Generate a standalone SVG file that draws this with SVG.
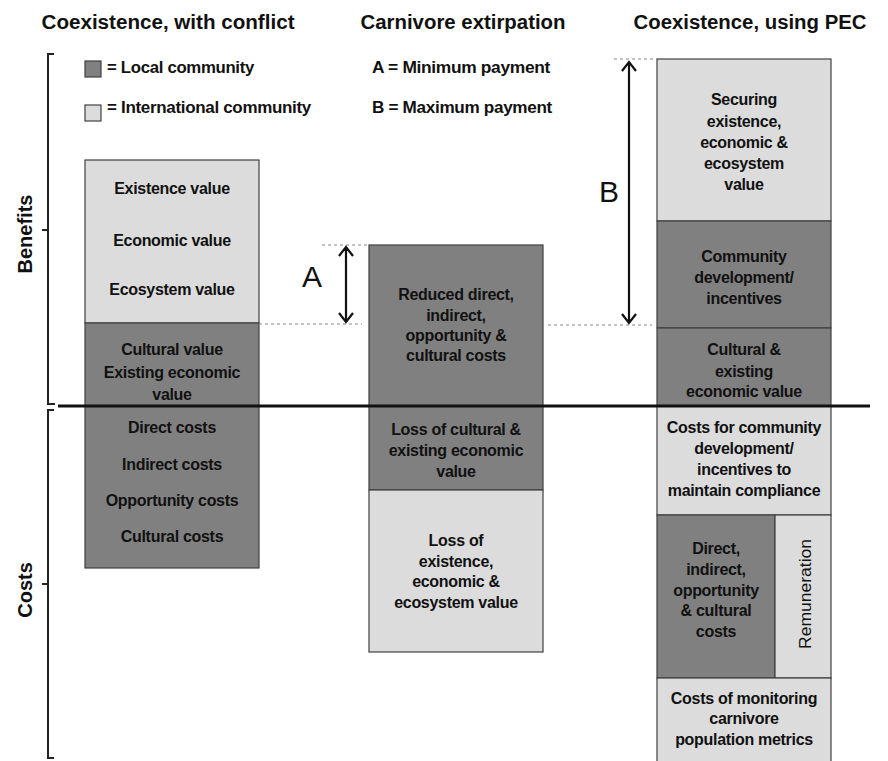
<svg xmlns="http://www.w3.org/2000/svg" width="888" height="761" viewBox="0 0 888 761">
<defs>
<style>
.dk{fill:#808080;stroke:#404040;stroke-width:1.2}
.lt{fill:#dcdcdc;stroke:#404040;stroke-width:1.2}
.t{font-family:"Liberation Sans",Arial,sans-serif;font-weight:bold;font-size:16px;fill:#111;text-anchor:middle;letter-spacing:-0.3px}
.h{font-family:"Liberation Sans",Arial,sans-serif;font-weight:bold;font-size:20px;fill:#111;text-anchor:middle}
.lg{font-family:"Liberation Sans",Arial,sans-serif;font-weight:bold;font-size:16px;fill:#111;letter-spacing:-0.3px}
.big{font-family:"Liberation Sans",Arial,sans-serif;font-size:30px;fill:#111;text-anchor:middle}
.br{fill:none;stroke:#222;stroke-width:2}
.ds{stroke:#888;stroke-width:1.2;stroke-dasharray:3 3;fill:none}
.ar{stroke:#111;stroke-width:2.2;fill:none}
</style>
</defs>
<rect width="888" height="761" fill="#fff"/>

<g id="titles">
<text class="h" x="168" y="29" textLength="253" lengthAdjust="spacingAndGlyphs">Coexistence, with conflict</text>
<text class="h" x="463" y="29" textLength="205" lengthAdjust="spacingAndGlyphs">Carnivore extirpation</text>
<text class="h" x="750" y="29" textLength="233" lengthAdjust="spacingAndGlyphs">Coexistence, using PEC</text>
</g>

<g id="legend">
<rect class="dk" x="85" y="61" width="16" height="16"/>
<text class="lg" x="107" y="73" textLength="147" lengthAdjust="spacingAndGlyphs">= Local community</text>
<rect class="lt" x="85" y="105" width="16" height="16"/>
<text class="lg" x="107" y="113" textLength="204" lengthAdjust="spacingAndGlyphs">= International community</text>
<text class="lg" x="372" y="73" textLength="178" lengthAdjust="spacingAndGlyphs">A = Minimum payment</text>
<text class="lg" x="372" y="113" textLength="180" lengthAdjust="spacingAndGlyphs">B = Maximum payment</text>
</g>

<g id="axis">
<path class="br" d="M54,54 H48 V404 H55 M48,230 H42"/>
<path class="br" d="M54,410 H48 V758 H54 M48,584 H42"/>
<text class="h" transform="translate(32,234) rotate(-90)">Benefits</text>
<text class="h" transform="translate(32,590) rotate(-90)">Costs</text>
</g>

<g id="col1-intl">
<rect class="lt" x="85" y="160" width="174" height="163"/>
<text class="t" x="172" y="194">Existence value</text>
<text class="t" x="172" y="246">Economic value</text>
<text class="t" x="172" y="295">Ecosystem value</text>
</g>
<g id="col1-local">
<rect class="dk" x="85" y="323" width="174" height="245"/>
<text class="t" x="172" y="355">Cultural value</text>
<text class="t" x="172" y="378">Existing economic</text>
<text class="t" x="172" y="400">value</text>
<text class="t" x="172" y="433">Direct costs</text>
<text class="t" x="172" y="470">Indirect costs</text>
<text class="t" x="172" y="506">Opportunity costs</text>
<text class="t" x="172" y="542">Cultural costs</text>
</g>

<g id="col2-reduced">
<rect class="dk" x="369" y="245" width="174" height="161"/>
<text class="t" x="456" y="300">Reduced direct,</text>
<text class="t" x="456" y="321">indirect,</text>
<text class="t" x="456" y="341">opportunity &amp;</text>
<text class="t" x="456" y="361">cultural costs</text>
</g>
<g id="col2-loss-cultural">
<rect class="dk" x="369" y="406" width="174" height="84"/>
<text class="t" x="456" y="435">Loss of cultural  &amp;</text>
<text class="t" x="456" y="456">existing economic</text>
<text class="t" x="456" y="477">value</text>
</g>
<g id="col2-loss-existence">
<rect class="lt" x="369" y="490" width="174" height="162"/>
<text class="t" x="456" y="546">Loss of</text>
<text class="t" x="456" y="567">existence,</text>
<text class="t" x="456" y="587">economic &amp;</text>
<text class="t" x="456" y="608">ecosystem value</text>
</g>

<g id="col3-securing">
<rect class="lt" x="657" y="59" width="174" height="162"/>
<text class="t" x="744" y="105">Securing</text>
<text class="t" x="744" y="127">existence,</text>
<text class="t" x="744" y="148">economic &amp;</text>
<text class="t" x="744" y="169">ecosystem</text>
<text class="t" x="744" y="190">value</text>
</g>
<g id="col3-community">
<rect class="dk" x="657" y="221" width="174" height="107"/>
<text class="t" x="744" y="262">Community</text>
<text class="t" x="744" y="283">development/</text>
<text class="t" x="744" y="304">incentives</text>
</g>
<g id="col3-cultural">
<rect class="dk" x="657" y="328" width="174" height="78"/>
<text class="t" x="744" y="355">Cultural &amp;</text>
<text class="t" x="744" y="377">existing</text>
<text class="t" x="744" y="397">economic value</text>
</g>
<g id="col3-costs-community">
<rect class="lt" x="657" y="406" width="174" height="109"/>
<text class="t" x="744" y="433">Costs for community</text>
<text class="t" x="744" y="454">development/</text>
<text class="t" x="744" y="475">incentives to</text>
<text class="t" x="744" y="496">maintain compliance</text>
</g>
<g id="col3-direct">
<rect class="dk" x="657" y="515" width="118" height="163"/>
<text class="t" x="716" y="554">Direct,</text>
<text class="t" x="716" y="575">indirect,</text>
<text class="t" x="716" y="596">opportunity</text>
<text class="t" x="716" y="616">&amp; cultural</text>
<text class="t" x="716" y="637">costs</text>
</g>
<g id="col3-remuneration">
<rect class="lt" x="775" y="515" width="56" height="163"/>
<text class="t" transform="translate(811,594) rotate(-90)" style="font-weight:normal;letter-spacing:0" textLength="110" lengthAdjust="spacingAndGlyphs">Remuneration</text>
</g>
<g id="col3-monitoring">
<rect class="lt" x="657" y="678" width="174" height="90"/>
<text class="t" x="744" y="704">Costs of monitoring</text>
<text class="t" x="744" y="724">carnivore</text>
<text class="t" x="744" y="745">population metrics</text>
</g>

<g id="connectors">
<line x1="58" y1="406" x2="870" y2="406" stroke="#111" stroke-width="3"/>
<line class="ds" x1="322" y1="245" x2="369" y2="245"/>
<line class="ds" x1="259" y1="324" x2="362" y2="324"/>
<line class="ds" x1="548" y1="325" x2="652" y2="325"/>
<line class="ds" x1="614" y1="59" x2="657" y2="59"/>
<path class="ar" d="M346,247 V322 M339,256 L346,247 L353,256 M339,313 L346,322 L353,313"/>
<path class="ar" d="M629,62 V323 M622,71 L629,62 L636,71 M622,314 L629,323 L636,314"/>
<text class="big" x="312" y="287">A</text>
<text class="big" x="609" y="202">B</text>
</g>
</svg>
